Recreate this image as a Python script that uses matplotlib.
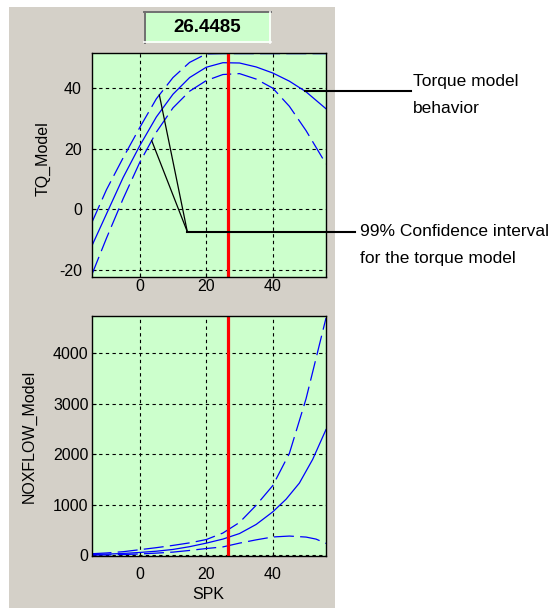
import numpy as np
import matplotlib
matplotlib.use("Agg")
import matplotlib.pyplot as plt
from matplotlib.patches import Rectangle
from matplotlib.lines import Line2D

W, H = 551, 608                      # canvas size in pixels
PANEL_GRAY = "#d4d0c8"
PLOT_GREEN = "#ccffcc"
CURVE_BLUE = "#0000ff"
DASH = (0, (16, 5))

plt.rcParams["font.family"] = ["Liberation Sans", "DejaVu Sans"]
plt.rcParams["axes.unicode_minus"] = False
NOTE_FONT = ["Liberation Sans", "DejaVu Sans"]
NOTE_SIZE = 12.5

# -- Current spark setting -----------------------------------------------------
SPK_VALUE = 26.4485

# -- Torque model with 99% confidence bounds -----------------------------------
tq_spk   = [-14.5, -10, -5, 0, 5, 10, 15, 20, 25, 30, 35, 40, 45, 50, 56]
tq_model = [-12.3, -1.5, 10.5, 21, 30.5, 38, 43.5, 46.9, 48.4, 48.3, 47, 45, 42.3, 38.8, 33.2]
tq_upper = [-4.6, 6.5, 17, 27, 36.5, 43.5, 48.5, 51.3, 51.4, 51.4, 51.4, 51.4, 51.4, 51.4, 51.4]
tq_lower = [-21.8, -9.5, 3.5, 15.5, 25.5, 33.5, 39, 42.5, 44.5, 44.8, 43, 40, 34, 26, 15]

# -- NOx flow model with bounds ------------------------------------------------
nox_spk   = [-14.5, -10, -5, 0, 5, 10, 15, 20, 25, 30, 35, 40, 44, 48, 52, 56]
nox_model = [15, 22, 35, 55, 80, 115, 170, 240, 320, 430, 610, 860, 1110, 1430, 1900, 2490]
nox_up_spk = [-14.5, -10, -5, 0, 5, 10, 15, 20, 25, 30, 35, 40, 45, 50, 53, 56]
nox_upper  = [30, 45, 70, 110, 150, 195, 245, 311, 440, 650, 990, 1380, 2020, 3100, 3900, 4700]
nox_lower  = [2, 6, 14, 25, 42, 62, 95, 133, 165, 240, 305, 362, 380, 360, 320, 235]

tq_ticks  = [-20, 0, 20, 40]
nox_ticks = [0, 1000, 2000, 3000, 4000]
spk_ticks = [0, 20, 40]


def px_box(left, top, right, bottom):
    """Pixel rectangle (top-left origin) -> figure-fraction [l, b, w, h]."""
    return [left / W, 1 - bottom / H, (right - left) / W, (bottom - top) / H]


fig = plt.figure(figsize=(W / 100, H / 100), dpi=100)
fig.patch.set_facecolor("white")

# background layer: gray panel and readout box
bg = fig.add_axes([0, 0, 1, 1], zorder=-1)
bg.set_xlim(0, W)
bg.set_ylim(H, 0)
bg.axis("off")
bg.add_patch(Rectangle((9, 7), 326, 601, facecolor=PANEL_GRAY, edgecolor="none"))
bg.add_patch(Rectangle((144.3, 11.7), 126.4, 31, facecolor=PLOT_GREEN, edgecolor="none"))
bg.add_line(Line2D([144.3, 270.7], [12.3, 12.3], color="#707070", lw=1.4))
bg.add_line(Line2D([144.9, 144.9], [11.7, 42.7], color="#707070", lw=1.4))
bg.add_line(Line2D([144.3, 270.7], [42.2, 42.2], color="white", lw=1.2))
bg.add_line(Line2D([270.2, 270.2], [11.7, 42.7], color="white", lw=1.2))
bg.text(207.5, 27.8, f"{SPK_VALUE:.4f}", ha="center", va="center",
        fontsize=13.5, fontweight="bold", color="black")


def style_axes(ax, xpad, ypad):
    ax.set_facecolor(PLOT_GREEN)
    ax.set_axisbelow(True)
    ax.grid(True, color="black", linestyle=(0, (3, 3)), linewidth=0.8)
    for sp in ax.spines.values():
        sp.set_linewidth(1.0)
        sp.set_color("black")
    ax.tick_params(direction="in", length=3, width=0.8, labelsize=11.5,
                   colors="black")
    ax.tick_params(axis="x", pad=xpad)
    ax.tick_params(axis="y", pad=ypad)
    ax.set_xlim(-14.5, 56)
    ax.set_xticks(spk_ticks)


# -- Top: torque -----------------------------------------------------------------
ax_tq = fig.add_axes(px_box(91.5, 53, 326, 276.7))
style_axes(ax_tq, xpad=2, ypad=7)
ax_tq.plot(tq_spk, tq_upper, color=CURVE_BLUE, lw=0.9, linestyle=DASH)
ax_tq.plot(tq_spk, tq_model, color=CURVE_BLUE, lw=0.9)
ax_tq.plot(tq_spk, tq_lower, color=CURVE_BLUE, lw=0.9, linestyle=DASH)
ax_tq.axvline(SPK_VALUE, color="red", lw=2.3)
ax_tq.set_ylim(-22.2, 51.6)
ax_tq.set_yticks(tq_ticks)
ax_tq.set_ylabel("TQ_Model", fontsize=11.5)
ax_tq.yaxis.set_label_coords(-0.175, 0.53)

# -- Bottom: NOx flow ------------------------------------------------------------
ax_nox = fig.add_axes(px_box(91.5, 316, 326, 556))
style_axes(ax_nox, xpad=8, ypad=2)
ax_nox.plot(nox_up_spk, nox_upper, color=CURVE_BLUE, lw=0.9, linestyle=DASH)
ax_nox.plot(nox_spk, nox_model, color=CURVE_BLUE, lw=0.9)
ax_nox.plot(nox_up_spk, nox_lower, color=CURVE_BLUE, lw=0.9, linestyle=DASH)
ax_nox.axvline(SPK_VALUE, color="red", lw=2.3)
ax_nox.set_ylim(-15, 4740)
ax_nox.set_yticks(nox_ticks)
ax_nox.set_ylabel("NOXFLOW_Model", fontsize=11.5)
ax_nox.yaxis.set_label_coords(-0.235, 0.5)
ax_nox.set_xlabel("SPK", fontsize=11.5)
ax_nox.xaxis.set_label_coords(0.5, -0.13)

# -- Callouts (pixel coordinates, top-left origin) --------------------------------
ov = fig.add_axes([0, 0, 1, 1], zorder=10)
ov.set_xlim(0, W)
ov.set_ylim(H, 0)
ov.axis("off")
ov.patch.set_alpha(0)


def on_curve(ax, x, xs, ys):
    disp = ax.transData.transform((x, np.interp(x, xs, ys)))
    return ov.transData.inverted().transform(disp)


mx, my = on_curve(ax_tq, 49.7, tq_spk, tq_model)
ov.add_line(Line2D([mx, 411], [my, my], color="black", lw=1.5))
ov.text(413, my - 5, "Torque model", fontsize=NOTE_SIZE, family=NOTE_FONT, va="baseline")
ov.text(413, my + 22, "behavior", fontsize=NOTE_SIZE, family=NOTE_FONT, va="baseline")

vx, vy = 187.3, 231.7
ux, uy = on_curve(ax_tq, 5.9, tq_spk, tq_upper)
lx, ly = on_curve(ax_tq, 3.6, tq_spk, tq_lower)
ov.add_line(Line2D([ux, vx], [uy, vy], color="black", lw=0.9))
ov.add_line(Line2D([lx, vx], [ly, vy], color="black", lw=0.9))
ov.add_line(Line2D([vx, 355], [vy, vy], color="black", lw=1.5))
ov.text(360, 236.5, "99% Confidence interval", fontsize=NOTE_SIZE, family=NOTE_FONT,
        va="baseline")
ov.text(360, 263.5, "for the torque model", fontsize=NOTE_SIZE, family=NOTE_FONT,
        va="baseline")

fig.savefig("out.png", dpi=100)
